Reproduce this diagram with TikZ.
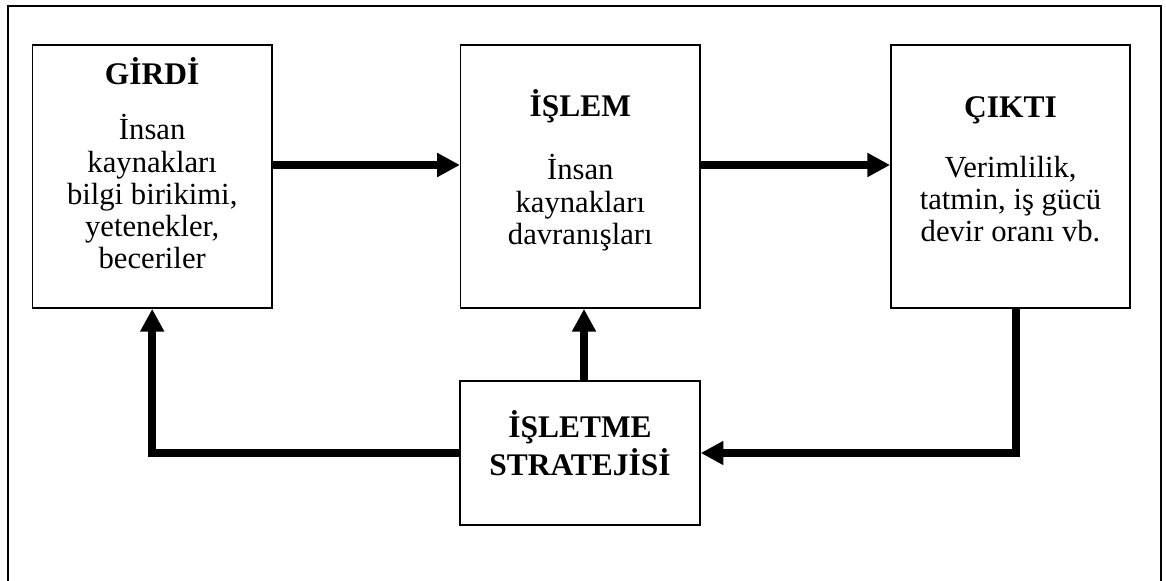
\documentclass[tikz,border=0pt]{standalone}
\usepackage{fontspec}
\setmainfont{Liberation Serif}
\usetikzlibrary{arrows.meta}

\tikzset{
  frameline/.style={line width=1.5pt},
  stagebox/.style={draw, line width=1.1pt, inner sep=0pt,
    minimum width=179.5pt, minimum height=197.5pt},
  stratbox/.style={draw, line width=1.1pt, inner sep=0pt,
    minimum width=180pt, minimum height=108pt},
  titletext/.style={anchor=base, inner sep=0pt, font=\fontsize{23.6}{28}\selectfont\bfseries},
  bodytext/.style={anchor=base, inner sep=0pt, font=\fontsize{23}{28}\selectfont},
  flow/.style={line width=6pt, line join=miter,
    -{Triangle[length=17pt,width=17pt]}}
}

\begin{document}
\begin{tikzpicture}[x=0.75pt, y=-0.75pt]
\useasboundingbox (0,0) rectangle (1166,581);

% outer frame (open at the bottom)
\draw[frameline] (8,581) -- (8,6) -- (1161,6) -- (1161,581);

% the four boxes
\node[stagebox] (girdi) at (152.2,176.5) {};
\node[stagebox] (islem) at (580.3,176.5) {};
\node[stagebox] (cikti) at (1010.5,176.5) {};
\node[stratbox] (strateji) at (580,453) {};

% texts
\node[titletext] (g0) at (152.2,85) {GİRDİ};
\node[bodytext] (g1) at (152.2,140) {İnsan};
\node[bodytext] (g2) at (152.2,172) {kaynakları};
\node[bodytext] (g3) at (152.2,204) {bilgi birikimi,};
\node[bodytext] (g4) at (152.2,236) {yetenekler,};
\node[bodytext] (g5) at (152.2,268) {beceriler};

\node[titletext] (i0) at (580.3,117) {İŞLEM};
\node[bodytext] (i1) at (580.3,180) {İnsan};
\node[bodytext] (i2) at (580.3,212) {kaynakları};
\node[bodytext] (i3) at (580.3,244) {davranışları};

\node[titletext] (c0) at (1010.5,118) {ÇIKTI};
\node[bodytext] (c1) at (1010.5,177) {Verimlilik,};
\node[bodytext] (c2) at (1010.5,209) {tatmin, iş gücü};
\node[bodytext] (c3) at (1010.5,241) {devir oranı vb.};

\node[titletext] (s0) at (580,437) {İŞLETME};
\node[titletext] (s1) at (580,475) {STRATEJİSİ};

% guide coordinates for the connectors
\coordinate (ya) at (0,165);
\coordinate (xm) at (584,0);
\coordinate (xr) at (1016,0);

% connectors
\draw[flow] (girdi.east |- ya) -- (islem.west |- ya);
\draw[flow] (islem.east |- ya) -- (cikti.west |- ya);
\draw[flow] (strateji.north -| xm) -- (islem.south -| xm);
\draw[flow] (cikti.south -| xr) |- (strateji.east);
\draw[flow] (strateji.west) -| (girdi.south);
\end{tikzpicture}
\end{document}
